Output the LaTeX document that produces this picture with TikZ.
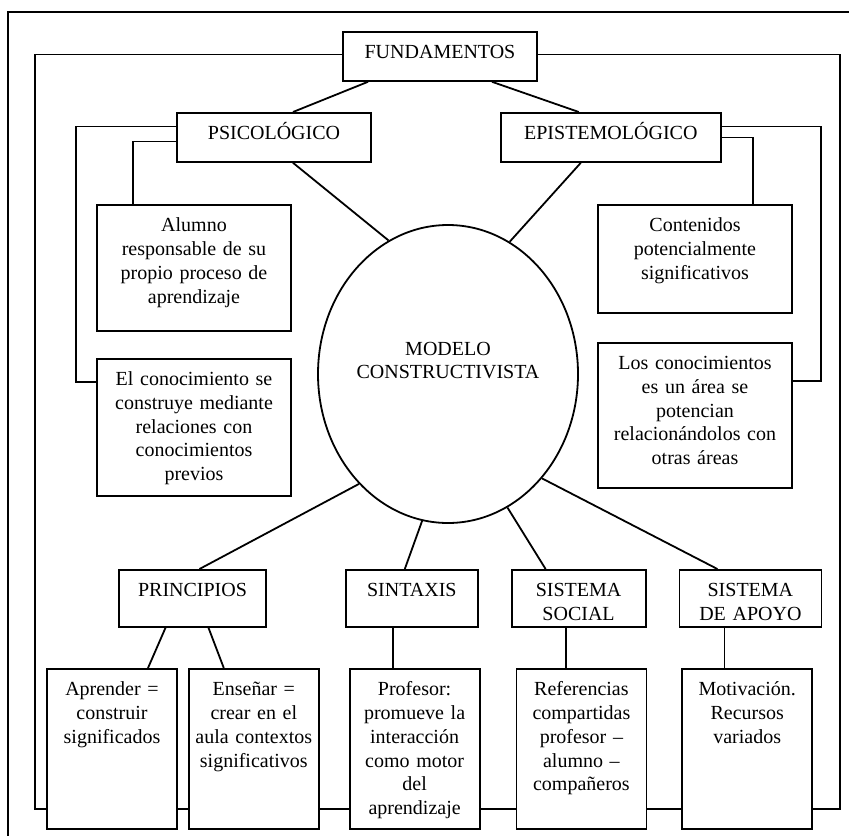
\documentclass[tikz,border=0pt]{standalone}
\usepackage{fontspec}
\setmainfont{Liberation Serif}
\usetikzlibrary{positioning,shapes}

\begin{document}
\begin{tikzpicture}[x=1pt, y=-1pt, line width=1.8pt, font=\fontsize{20pt}{23.75pt}\selectfont]
            \tikzstyle{block} = [draw, rectangle, anchor=north, inner sep=0pt, align=center, text height=27pt]
            \tikzstyle{hub} = [draw, ellipse, inner xsep=-12pt, inner ysep=0pt, align=center]
            \useasboundingbox (0,0) rectangle (849,836);
            \draw (849,12) -- (8,12) -- (8,836);

            \node [block, text width=194pt, text depth=22pt] (fund) at (440,31) {FUNDAMENTOS};
            \node [block, text width=194pt, text depth=22pt] (psico) at (274,112) {PSICOLÓGICO};
            \node [block, right = 128pt of psico, text width=220pt, text depth=22pt] (episte) {EPISTEMOLÓGICO};
            \node [block, text width=194pt, text depth=99pt] (alumno) at (194,204) {Alumno\\ responsable de su\\ propio proceso de\\ aprendizaje};
            \node [block, below = 26pt of alumno, text width=194pt, text depth=110pt] (conoc) {El conocimiento se\\ construye mediante\\ relaciones con\\ conocimientos\\ previos};
            \node [block, text width=194pt, text depth=81pt] (conten) at (695,204) {Contenidos\\ potencialmente\\ significativos};
            \node [block, below = 28pt of conten, text width=194pt, text depth=118pt] (losconoc) {Los conocimientos\\ es un área se\\ potencian\\ relacionándolos con\\ otras áreas};
            \node [hub, text width=190pt, text height=12pt, text depth=50pt, minimum width=260pt, minimum height=298pt] (modelo) at (448,374) {MODELO\\ CONSTRUCTIVISTA};

            \node [block, text width=147pt, text depth=30pt] (prin) at (192.5,569) {PRINCIPIOS};
            \node [block, right = 78pt of prin, text width=132pt, text depth=30pt] (sint) {SINTAXIS};
            \node [block, right = 32pt of sint, text width=134pt, text depth=30pt] (social) {SISTEMA\\ SOCIAL};
            \node [block, right = 32pt of social, text width=142pt, text depth=30pt] (apoyo) {SISTEMA\\ DE APOYO};

            \node [block, text width=130pt, text depth=133pt] (aprender) at (112,668) {Aprender =\\ construir\\ significados};
            \node [block, right = 10pt of aprender, text width=130pt, text depth=133pt] (ensenar) {Enseñar =\\ crear en el\\ aula contextos\\ significativos};
            \node [block, right = 29pt of ensenar, text width=130pt, text depth=133pt] (profesor) {Profesor:\\ promueve la\\ interacción\\ como motor\\ del\\ aprendizaje};
            \node [block, right = 35pt of profesor, text width=130pt, text depth=133pt] (referen) {Referencias\\ compartidas\\ profesor –\\ alumno –\\ compañeros};
            \node [block, right = 34pt of referen, text width=130pt, text depth=133pt] (motiv) {Motivación.\\ Recursos\\ variados};

            % outer loops
            \draw ([yshift=2pt]fund.west) -| ([xshift=-11pt, yshift=21pt]aprender.south west) -- ([yshift=21pt]aprender.south west);
            \draw ([yshift=2pt]fund.east) -| ([xshift=27pt, yshift=21pt]motiv.south east) -- ([yshift=21pt]motiv.south east);
            \draw ([yshift=21pt]aprender.south east) -- ([yshift=21pt]ensenar.south west);
            \draw ([yshift=21pt]ensenar.south east) -- ([yshift=21pt]profesor.south west);
            \draw ([yshift=21pt]profesor.south east) -- ([yshift=21pt]referen.south west);
            \draw ([yshift=21pt]referen.south east) -- ([yshift=21pt]motiv.south west);

            \draw ([yshift=11pt]psico.west) -| ([xshift=-20pt, yshift=-24pt]conoc.north west) -- ([yshift=-24pt]conoc.north west);
            \draw ([yshift=-4pt]psico.west) -| ([xshift=37pt]alumno.north west);
            \draw ([yshift=11pt]episte.east) -| ([xshift=28pt, yshift=-39pt]losconoc.north east) -- ([yshift=-39pt]losconoc.north east);
            \draw (episte.east) -| ([xshift=-40pt]conten.north east);

            % spokes
            \draw ([xshift=-72pt]fund.south) -- ([xshift=19pt]psico.north);
            \draw ([xshift=52pt]fund.south) -- ([xshift=-32pt]episte.north);
            \draw ([xshift=19pt]psico.south) -- (modelo.114);
            \draw ([xshift=-30pt]episte.south) -- (modelo.65);
            \draw (modelo.231) -- ([xshift=7pt]prin.north);
            \draw (modelo.260) -- ([xshift=-7pt]sint.north);
            \draw (modelo.294) -- ([xshift=-33pt]social.north);
            \draw (modelo.312) -- ([xshift=-33pt]apoyo.north);
            \draw ([xshift=-27pt]prin.south) -- ([xshift=36pt]aprender.north);
            \draw ([xshift=16pt]prin.south) -- ([xshift=-30pt]ensenar.north);
            \draw ([xshift=-19pt]sint.south) -- ([xshift=-19pt]sint.south |- profesor.north);
            \draw ([xshift=-13pt]social.south) -- ([xshift=-13pt]social.south |- referen.north);
            \draw ([xshift=-26pt]apoyo.south) -- ([xshift=-26pt]apoyo.south |- motiv.north);
\end{tikzpicture}
\end{document}
